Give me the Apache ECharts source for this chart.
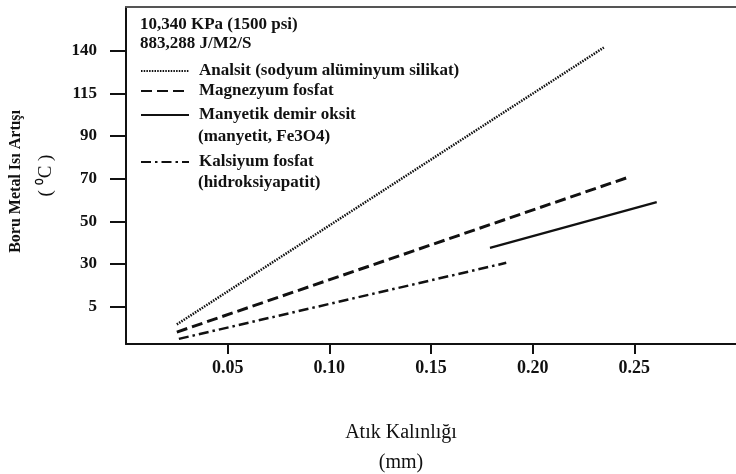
<!DOCTYPE html>
<html>
<head>
<meta charset="utf-8">
<script src="https://cdn.jsdelivr.net/npm/echarts@6/dist/echarts.min.js"></script>
<style>
  html, body { margin: 0; padding: 0; background: #fff; }
  #chart { width: 736px; height: 474px; }
</style>
</head>
<body>
<div id="chart"></div>
<script>
// tick labels (the y scale in the source is not linear: equal spacing per label)
const xTicks = [0.05, 0.10, 0.15, 0.20, 0.25]
const yTicks = [5, 30, 50, 70, 90, 115, 140]

// line endpoints: [thickness mm, temperature rise °C]
const analsit = [[0.025, 2.9], [0.235, 142]]
const magnezyum = [[0.025, 2.0], [0.248, 71]]
const manyetik = [[0.179, 37.5], [0.261, 59]]
const kalsiyum = [[0.026, 1.2], [0.187, 30.5]]

const names = [
  'Analsit (sodyum alüminyum silikat)',
  'Magnezyum fosfat',
  'Manyetik demir oksit',
  'Kalsiyum fosfat',
]

const FONT = '"Liberation Serif", "Times New Roman", serif'
const INK = '#111'

// map °C onto the evenly spaced label slots (slot 0 = 0 °C)
const stops = [0, ...yTicks]
function toSlot(c) {
  for (let i = 1; i < stops.length; i += 1) {
    if (c <= stops[i]) return i - 1 + (c - stops[i - 1]) / (stops[i] - stops[i - 1])
  }
  const n = stops.length - 1
  return n + (c - stops[n]) / (stops[n] - stops[n - 1])
}
const slots = yTicks.map((_, i) => i + 1)

function line(name, data, lineStyle) {
  return {
    name,
    type: 'line',
    symbol: 'none',
    xAxisIndex: 0,
    data: data.map(([x, c]) => [x, toSlot(c)]),
    lineStyle: Object.assign({ color: INK, cap: 'butt' }, lineStyle),
    itemStyle: { color: INK },
  }
}

const legendCenters = [71, 91, 115, 162]
const legends = names.map((name, i) => ({
  data: [name],
  left: 140,
  top: legendCenters[i] - 10,
  padding: 0,
  itemWidth: 48,
  itemHeight: 14,
  selectedMode: false,
  itemStyle: { color: 'rgba(0,0,0,0)', borderColor: 'rgba(0,0,0,0)', borderWidth: 0, opacity: 0 },
  textStyle: {
    fontFamily: FONT, fontWeight: 'bold', fontSize: 17, color: INK,
    lineHeight: 20, padding: [0, 0, 0, 5],
  },
}))

function note(text, x, y) {
  return {
    type: 'text', x, y,
    style: {
      text, fontFamily: FONT, fontWeight: 'bold', fontSize: 17,
      fill: INK, verticalAlign: 'middle',
    },
  }
}

const chart = echarts.init(document.getElementById('chart'))
chart.setOption({
  animation: false,
  grid: { left: 126, right: 0, top: 7, bottom: 130, outerBoundsMode: 'none', containLabel: false },
  legend: legends,
  graphic: [
    note('10,340 KPa (1500 psi)', 140, 25),
    note('883,288 J/M2/S', 140, 44),
    note('(manyetit, Fe3O4)', 198, 137),
    note('(hidroksiyapatit)', 198, 183),
  ],
  xAxis: [
    {
      type: 'value',
      min: 0,
      max: 0.3,
      name: 'Atık Kalınlığı\n(mm)',
      nameLocation: 'middle',
      nameGap: 74,
      nameTextStyle: {
        fontFamily: FONT, fontSize: 20, color: INK, lineHeight: 30,
        padding: [0, 60, 0, 0],
      },
      axisLine: { lineStyle: { color: INK, width: 2 } },
      axisTick: { customValues: xTicks, length: 10, lineStyle: { color: INK, width: 2 } },
      axisLabel: {
        customValues: xTicks,
        formatter: (v) => v.toFixed(2),
        margin: 15,
        fontFamily: FONT, fontWeight: 'bold', fontSize: 18, color: INK,
      },
      splitLine: { show: false },
    },
    {
      type: 'value',
      position: 'top',
      min: 0,
      max: 0.3,
      axisLine: { lineStyle: { color: '#555', width: 2 } },
      axisTick: { show: false },
      axisLabel: { show: false },
      splitLine: { show: false },
    },
  ],
  yAxis: {
    type: 'value',
    min: 0.12,
    max: 8.03,
    name: '{a|Boru Metal Isı Artışı}\n{b|( ⁰C )}',
    nameLocation: 'middle',
    nameGap: 62,
    nameRotate: 90,
    nameTextStyle: {
      lineHeight: 30,
      rich: {
        a: { fontFamily: FONT, fontWeight: 'bold', fontSize: 16, color: INK, lineHeight: 30, padding: [0, 12, 0, 0] },
        b: { fontFamily: FONT, fontSize: 19, color: INK, lineHeight: 30 },
      },
    },
    axisLine: { lineStyle: { color: INK, width: 2 } },
    axisTick: { customValues: slots, length: 16, lineStyle: { color: INK, width: 2 } },
    axisLabel: {
      customValues: slots,
      formatter: (v) => String(yTicks[Math.round(v) - 1]),
      margin: 29,
      fontFamily: FONT, fontWeight: 'bold', fontSize: 17, color: INK,
    },
    splitLine: { show: false },
  },
  series: [
    line(names[0], analsit, { width: 2.5, type: [1.5, 1.2] }),
    line(names[1], magnezyum, { width: 3, type: [11, 5] }),
    line(names[2], manyetik, { width: 2.2, type: 'solid' }),
    line(names[3], kalsiyum, { width: 2.5, type: [10, 4, 2.5, 4] }),
  ],
})
</script>
</body>
</html>
